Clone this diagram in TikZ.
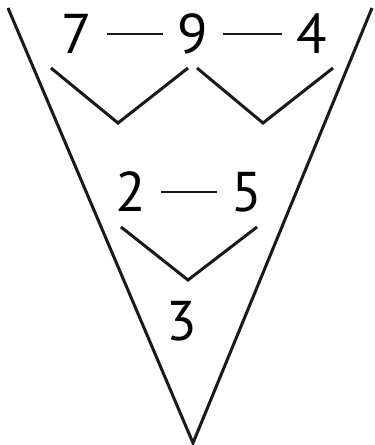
\documentclass[tikz,border=0pt]{standalone}
\usepackage{fontspec}
\setmainfont{PT Sans}
\begin{document}
\begin{tikzpicture}[x=1pt,y=-1pt,
  num/.style={inner sep=0pt,font=\fontsize{56}{56}\selectfont},
  ln/.style={line width=3pt,black!90},
  dashline/.style={line width=2.4pt,black!90,yshift=3pt,shorten <=15pt,shorten >=15pt}]
\useasboundingbox (0,0) rectangle (375,445);
% outer funnel
\coordinate (tl) at (8,8);
\coordinate (tr) at (372,8);
\coordinate (bt) at (193,443);
\draw[ln,line join=miter] (tl) -- (bt) -- (tr);
% numbers
\node[num] (n7) at (77,34) {7};
\node[num] (n9) at (193,34) {9};
\node[num] (n4) at (312,34) {4};
\node[num] (n2) at (131,192) {2};
\node[num] (n5) at (247,192) {5};
\node[num] (n3) at (182,321) {3};
% dashes
\draw[dashline] (n7.east) -- (n9.west);
\draw[dashline] (n9.east) -- (n4.west);
\draw[dashline] (n2.east) -- (n5.west);
% V connectors
\coordinate (a1) at (51,68); \coordinate (a2) at (118,123); \coordinate (a3) at (188,68);
\coordinate (b1) at (197,68); \coordinate (b2) at (263,123); \coordinate (b3) at (333,68);
\coordinate (c1) at (121,227); \coordinate (c2) at (188,280); \coordinate (c3) at (257,227);
\draw[ln] (a1) -- (a2) -- (a3);
\draw[ln] (b1) -- (b2) -- (b3);
\draw[ln] (c1) -- (c2) -- (c3);
\end{tikzpicture}
\end{document}
